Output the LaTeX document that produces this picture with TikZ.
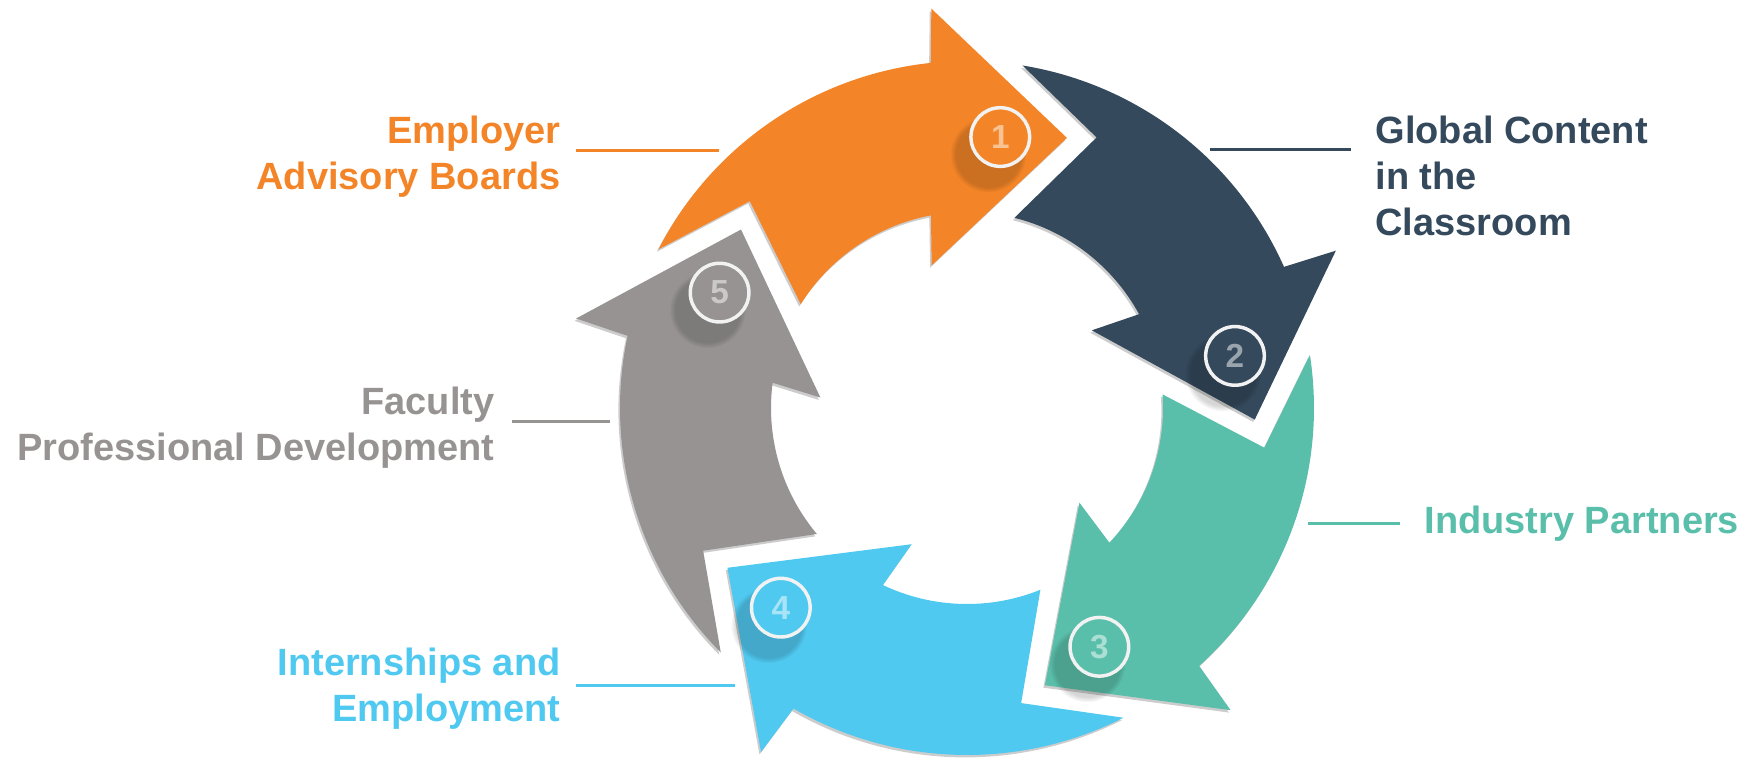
\documentclass[tikz,border=0pt]{standalone}
\usepackage{fontspec}
\setmainfont{Liberation Sans}
\usetikzlibrary{calc,shadows}

\tikzset{every picture/.style={line width=0.75pt}}
\tikzset{
  lbltext/.style={inner sep=0.75pt, font=\bfseries\fontsize{28.5}{34.5}\selectfont},
  lblline/.style={line width=2.25pt},
  arrowshadow/.style={drop shadow={shadow xshift=-1.2pt, shadow yshift=-1.8pt, opacity=0.2, fill=black}},
  numring/.style={circle, draw={rgb, 255:red, 242; green, 242; blue, 242}, line width=2.6pt, minimum size=44pt, inner sep=0pt,
    text=white, text opacity=0.5, font=\bfseries\fontsize{25}{25}\selectfont,
    circular drop shadow={shadow xshift=-7pt, shadow yshift=-10pt, shadow scale=1.3, opacity=0.16, fill=black}}
}

\begin{document}
\begin{tikzpicture}[x=0.75pt,y=0.75pt,yscale=-1,xscale=1]
\useasboundingbox (0,0) rectangle (1754,758); %diagram is 1754 x 758

\coordinate (c) at (967,408);

%Shape: Curved Arrow 1
\fill [fill={rgb, 255:red, 243; green, 133; blue, 40 }, arrowshadow] ($(c)+(-152.8:347)$) arc [start angle=-152.8, end angle=-96, radius=347] -- ($(c)+(-95.1:401)$) -- ($(c)+(-69.7:288)$) -- ($(c)+(-103.9:147)$) -- ($(c)+(-100.6:196)$) arc [start angle=-100.6, end angle=-148, radius=196] -- ($(c)+(-136.4:300)$) -- cycle ;
%Shape: Curved Arrow 2
\fill [fill={rgb, 255:red, 52; green, 73; blue, 92 }, arrowshadow] ($(c)+(-80.8:347)$) arc [start angle=-80.8, end angle=-24, radius=347] -- ($(c)+(-23.1:401)$) -- ($(c)+(2.3:288)$) -- ($(c)+(-31.9:147)$) -- ($(c)+(-28.6:196)$) arc [start angle=-28.6, end angle=-76, radius=196] -- ($(c)+(-64.4:300)$) -- cycle ;
%Shape: Curved Arrow 3
\fill [fill={rgb, 255:red, 90; green, 191; blue, 170 }, arrowshadow] ($(c)+(-8.8:347)$) arc [start angle=-8.8, end angle=48, radius=347] -- ($(c)+(48.9:401)$) -- ($(c)+(74.3:288)$) -- ($(c)+(40.1:147)$) -- ($(c)+(43.4:196)$) arc [start angle=43.4, end angle=-4, radius=196] -- ($(c)+(7.6:300)$) -- cycle ;
%Shape: Curved Arrow 4
\fill [fill={rgb, 255:red, 80; green, 201; blue, 240 }, arrowshadow] ($(c)+(63.2:347)$) arc [start angle=63.2, end angle=120, radius=347] -- ($(c)+(120.9:401)$) -- ($(c)+(146.3:288)$) -- ($(c)+(112.1:147)$) -- ($(c)+(115.4:196)$) arc [start angle=115.4, end angle=68, radius=196] -- ($(c)+(79.6:300)$) -- cycle ;
%Shape: Curved Arrow 5
\fill [fill={rgb, 255:red, 150; green, 147; blue, 146 }, arrowshadow] ($(c)+(135.2:347)$) arc [start angle=135.2, end angle=192, radius=347] -- ($(c)+(192.9:401)$) -- ($(c)+(218.3:288)$) -- ($(c)+(184.1:147)$) -- ($(c)+(187.4:196)$) arc [start angle=187.4, end angle=140, radius=196] -- ($(c)+(151.6:300)$) -- cycle ;

%Number circles
\node [numring, fill={rgb, 255:red, 243; green, 133; blue, 40 }] (n1) at ($(c)+(-83:273)$) {1};
\node [numring, fill={rgb, 255:red, 52; green, 73; blue, 92 }] (n2) at ($(c)+(-11:273)$) {2};
\node [numring, fill={rgb, 255:red, 90; green, 191; blue, 170 }] (n3) at ($(c)+(61:273)$) {3};
\node [numring, fill={rgb, 255:red, 80; green, 201; blue, 240 }] (n4) at ($(c)+(133:273)$) {4};
\node [numring, fill={rgb, 255:red, 150; green, 147; blue, 146 }] (n5) at ($(c)+(205:273)$) {5};

% Text Node
\node [lbltext, anchor=base east, align=right, text={rgb, 255:red, 243; green, 133; blue, 40 }] (tEmployer) at (562,189) {Employer\\Advisory Boards};
% Text Node
\node [lbltext, anchor=base west, align=left, text={rgb, 255:red, 52; green, 73; blue, 92 }] (tGlobal) at (1374,235) {Global Content\\in the\\Classroom};
% Text Node
\node [lbltext, anchor=base west, align=left, text={rgb, 255:red, 90; green, 191; blue, 170 }] (tIndustry) at (1423,533) {Industry Partners};
% Text Node
\node [lbltext, anchor=base east, align=right, text={rgb, 255:red, 80; green, 201; blue, 240 }] (tIntern) at (562,721) {Internships and\\Employment};
% Text Node
\node [lbltext, anchor=base east, align=right, text={rgb, 255:red, 150; green, 147; blue, 146 }] (tFaculty) at (496,460) {Faculty\\Professional Development};

%Label lines
\coordinate (l1a) at (576,150); \coordinate (l1b) at (719,150);
\coordinate (l2a) at (1210,149); \coordinate (l2b) at (1351,149);
\coordinate (l3a) at (1308,523); \coordinate (l3b) at (1400,523);
\coordinate (l4a) at (576,685); \coordinate (l4b) at (735,685);
\coordinate (l5a) at (512,421); \coordinate (l5b) at (610,421);
\draw [lblline, color={rgb, 255:red, 243; green, 133; blue, 40 }] (l1a) -- (l1b) ;
\draw [lblline, color={rgb, 255:red, 52; green, 73; blue, 92 }] (l2a) -- (l2b) ;
\draw [lblline, color={rgb, 255:red, 90; green, 191; blue, 170 }] (l3a) -- (l3b) ;
\draw [lblline, color={rgb, 255:red, 80; green, 201; blue, 240 }] (l4a) -- (l4b) ;
\draw [lblline, color={rgb, 255:red, 150; green, 147; blue, 146 }] (l5a) -- (l5b) ;

\end{tikzpicture}
\end{document}
